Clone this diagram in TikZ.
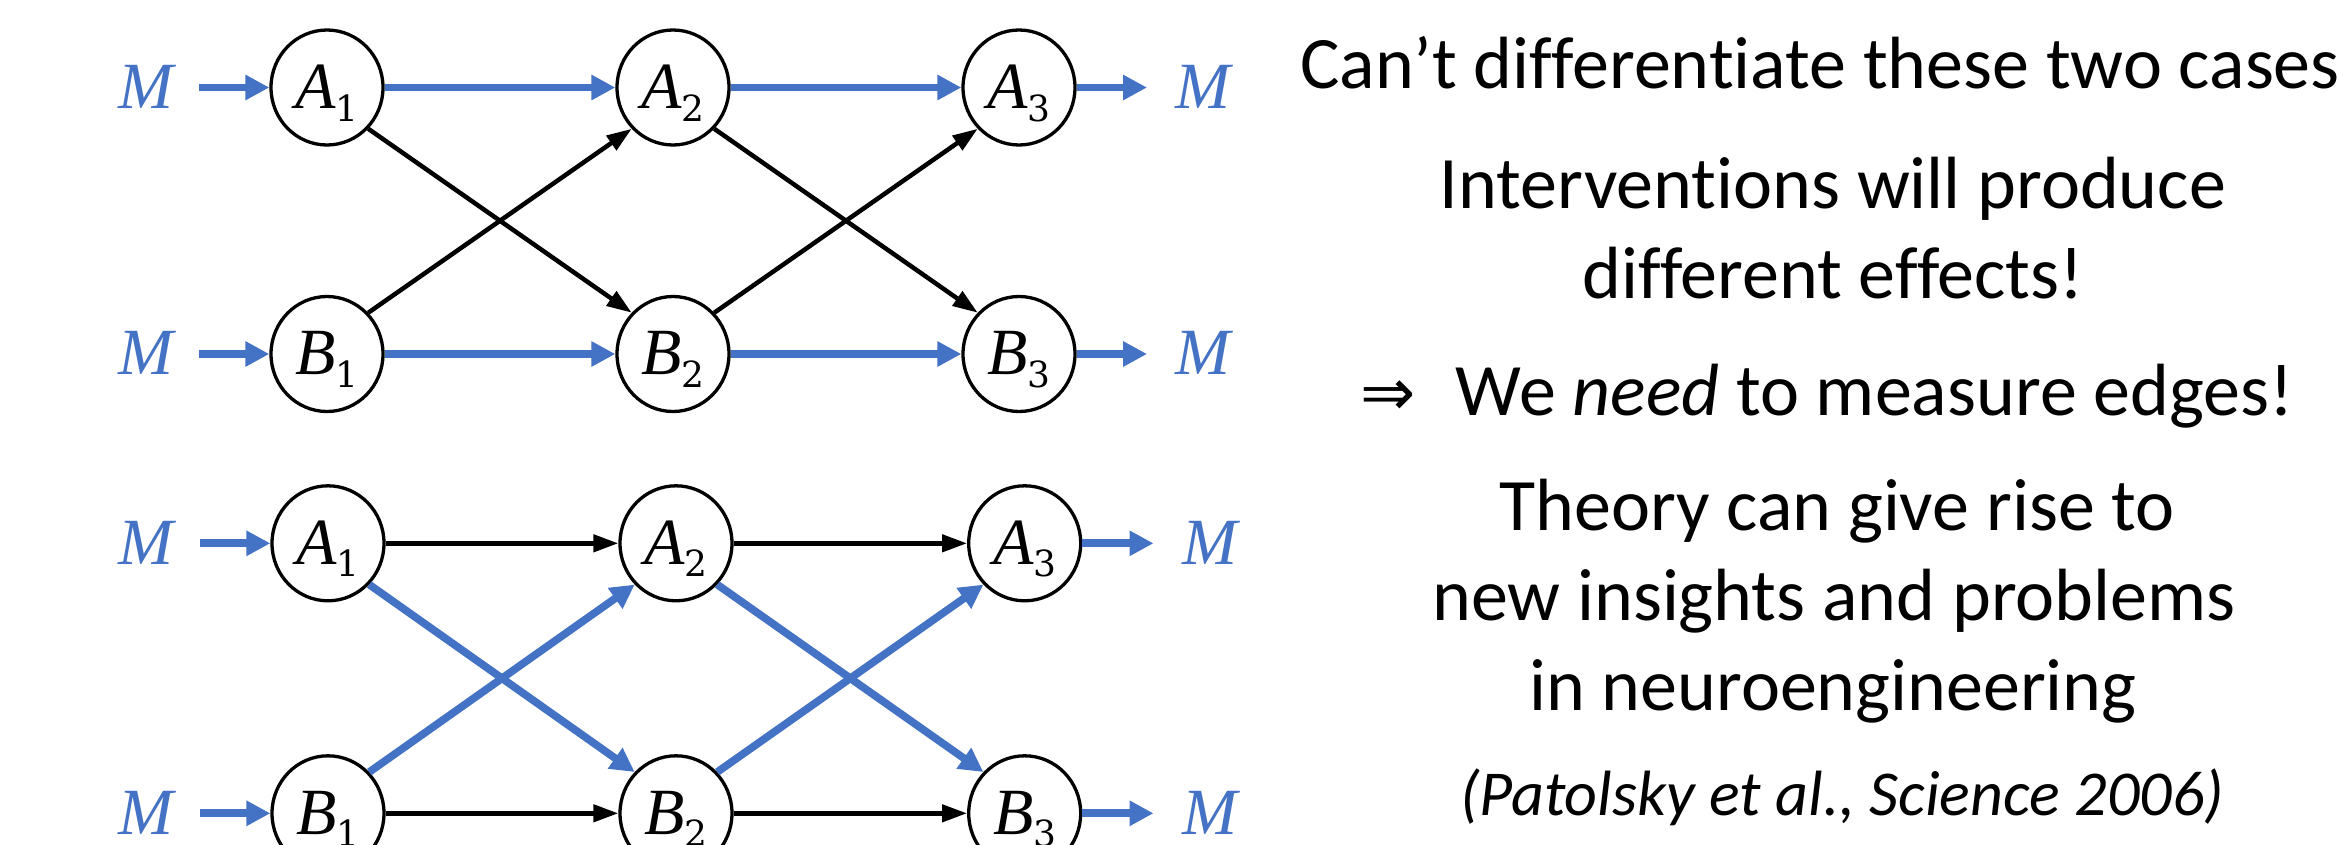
\documentclass[tikz,border=0pt]{standalone}
\usepackage{fontspec}
\setmainfont{Carlito}[Ligatures={NoCommon}]
\newfontfamily\letterfont{Liberation Serif}
\newfontfamily\digitfont{DejaVu Serif}
\newfontfamily\arrowfont{DejaVu Sans}
\usetikzlibrary{arrows.meta,shapes.geometric}
\definecolor{pblue}{HTML}{4472C4}
\newcommand{\lbl}[2]{{\letterfont\itshape #1}\raisebox{-12.7pt}{\fontsize{36pt}{36pt}\selectfont\digitfont #2}}
\begin{document}
\begin{tikzpicture}[x=1pt,y=-1pt,
  neuron/.style={draw=black, line width=3.3pt, ellipse, minimum width=112pt, minimum height=115pt, inner sep=0pt, text height=41.6pt, text depth=0pt, font=\fontsize{66pt}{66pt}\selectfont},
  mlabel/.style={text=pblue, inner sep=0pt, text height=41.6pt, text depth=0pt, font=\fontsize{66pt}{66pt}\selectfont\letterfont\itshape},
  bluearrow/.style={draw=pblue, line width=7.7pt, -{Triangle[length=24pt,width=24pt]}},
  blackarrow/.style={draw=black, line width=4.5pt, -{Triangle[length=25pt,width=17pt]}},
  textline/.style={anchor=base, inner sep=0pt, font=\fontsize{74pt}{74pt}\selectfont},
]
\useasboundingbox (0,0) rectangle (2340,844);
\clip (0,0) rectangle (2340,844);

% ---------- top network ----------
\node[neuron] (tA1) at (327,87.5) {\lbl{A}{1}};
\node[neuron] (tA2) at (673,87.5) {\lbl{A}{2}};
\node[neuron] (tA3) at (1019,87.5) {\lbl{A}{3}};
\node[neuron] (tB1) at (327,354) {\lbl{B}{1}};
\node[neuron] (tB2) at (673,354) {\lbl{B}{2}};
\node[neuron] (tB3) at (1019,354) {\lbl{B}{3}};
\node[mlabel] (tMA) at (146,87.5) {M};
\node[mlabel] (tMB) at (146,354) {M};
\node[mlabel] (tMA3) at (1203,87.5) {M};
\node[mlabel] (tMB3) at (1203,354) {M};
\coordinate (tinA) at (199,87.5);
\coordinate (tinB) at (199,354);
\coordinate (toutA) at (1147,87.5);
\coordinate (toutB) at (1147,354);

\draw[bluearrow] (tinA) -- (tA1.west);
\draw[bluearrow] (tinB) -- (tB1.west);
\draw[bluearrow] (tA1.east) -- (tA2.west);
\draw[bluearrow] (tA2.east) -- (tA3.west);
\draw[bluearrow] (tB1.east) -- (tB2.west);
\draw[bluearrow] (tB2.east) -- (tB3.west);
\draw[bluearrow] (tA3.east) -- (toutA);
\draw[bluearrow] (tB3.east) -- (toutB);
\draw[blackarrow] (tA1.-45) -- (tB2.135);
\draw[blackarrow] (tB1.45) -- (tA2.-135);
\draw[blackarrow] (tA2.-45) -- (tB3.135);
\draw[blackarrow] (tB2.45) -- (tA3.-135);

% ---------- bottom network ----------
\node[neuron] (bA1) at (328,543.3) {\lbl{A}{1}};
\node[neuron] (bA2) at (676,543.3) {\lbl{A}{2}};
\node[neuron] (bA3) at (1024.7,543.3) {\lbl{A}{3}};
\node[neuron] (bB1) at (328,813.3) {\lbl{B}{1}};
\node[neuron] (bB2) at (676,813.3) {\lbl{B}{2}};
\node[neuron] (bB3) at (1024.7,813.3) {\lbl{B}{3}};
\node[mlabel] (bMA) at (146,543.3) {M};
\node[mlabel] (bMB) at (146,813.3) {M};
\node[mlabel] (bMA3) at (1210,543.3) {M};
\node[mlabel] (bMB3) at (1210,813.3) {M};
\coordinate (binA) at (200,543.3);
\coordinate (binB) at (200,813.3);
\coordinate (boutA) at (1153.5,543.3);
\coordinate (boutB) at (1153.5,813.3);

\draw[bluearrow] (binA) -- (bA1.west);
\draw[bluearrow] (binB) -- (bB1.west);
\draw[blackarrow] (bA1.east) -- (bA2.west);
\draw[blackarrow] (bA2.east) -- (bA3.west);
\draw[blackarrow] (bB1.east) -- (bB2.west);
\draw[blackarrow] (bB2.east) -- (bB3.west);
\draw[bluearrow] (bA3.east) -- (boutA);
\draw[bluearrow] (bB3.east) -- (boutB);
\draw[bluearrow] (bA1.-45) -- (bB2.135);
\draw[bluearrow] (bB1.45) -- (bA2.-135);
\draw[bluearrow] (bA2.-45) -- (bB3.135);
\draw[bluearrow] (bB2.45) -- (bA3.-135);

% ---------- text ----------
\node[textline, anchor=base west] (t1) at (1300,88.3) {Can’t differentiate these two cases};
\node[textline] (t2) at (1833,208.3) {Interventions will produce};
\node[textline] (t3) at (1833,298.3) {different effects!};
\node[textline] (t4) at (1827,415) {{\fontsize{66pt}{66pt}\arrowfont ⇒}\hspace{40pt}We \textit{need} to measure edges!};
\node[textline] (t5) at (1837,530) {Theory can give rise to};
\node[textline] (t6) at (1834,620) {new insights and problems};
\node[textline] (t7) at (1833,710) {in neuroengineering};
\node[textline,font=\fontsize{64pt}{64pt}\selectfont\itshape] (t8) at (1842,815) {(Patolsky et al., Science 2006)};
\end{tikzpicture}
\end{document}
